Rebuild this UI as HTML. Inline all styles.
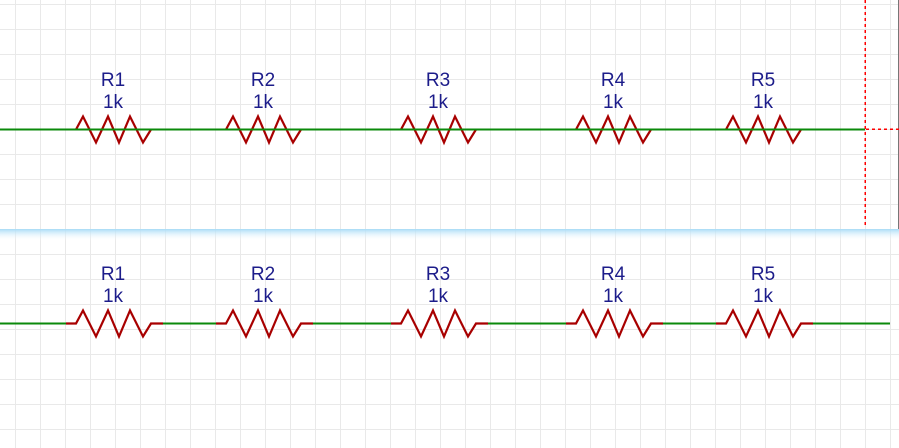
<!DOCTYPE html>
<html><head><meta charset="utf-8"><style>
html,body{margin:0;padding:0;background:#fff;}
svg{display:block;font-family:"Liberation Sans",sans-serif;}
</style></head><body>
<svg id="s" width="899" height="448" viewBox="0 0 899 448">
<defs>
<pattern id="grid" x="15" y="4" width="25" height="25" patternUnits="userSpaceOnUse">
<path d="M0.5 0V25M0 0.5H25" fill="none" stroke="#e9e9e9" stroke-width="1"/>
</pattern>
<linearGradient id="glow" x1="0" y1="0" x2="0" y2="1">
<stop offset="0" stop-color="#a9dcf7"/><stop offset="1" stop-color="#ffffff" stop-opacity="0"/>
</linearGradient>
</defs>
<rect width="899" height="448" fill="url(#grid)"/>
<rect x="0" y="229" width="899" height="12" fill="url(#glow)"/>
<line x1="898.5" y1="0" x2="898.5" y2="229" stroke="#777" stroke-width="1"/>
<line x1="865" y1="0" x2="865" y2="228" stroke="#ff0000" stroke-width="1.5" shape-rendering="crispEdges" stroke-dasharray="3,3"/>
<line x1="866" y1="129" x2="899" y2="129" stroke="#ff0000" stroke-width="1.5" shape-rendering="crispEdges" stroke-dasharray="3,3"/>
<g id="topg"></g>
<g id="botg"></g>
</svg>
<script>
const names = ["R1","R2","R3","R4","R5"];
const values = ["1k","1k","1k","1k","1k"];
const centers = [113,263,438,613,763];
const NS="http://www.w3.org/2000/svg";
function mk(tag,attrs,parent){const e=document.createElementNS(NS,tag);for(const k in attrs)e.setAttribute(k,attrs[k]);parent.appendChild(e);return e;}
function zig(cx,wy){const xs=[-37,-30,-17,-5,6,17,30,38];const ys=[0,-13,13,-13,13,-13,13,0];return xs.map((x,i)=>(cx+x)+","+(wy+ys[i])).join(" ");}
function label(g,i,y){
  const t1=mk("text",{x:centers[i],y:y,"text-anchor":"middle","font-size":"19",fill:"#1c1c8a"},g);
  
  
  t1.textContent=names[i];
  const t2=mk("text",{x:centers[i],y:y+22,"text-anchor":"middle","font-size":"19",fill:"#1c1c8a"},g);
  
  
  t2.textContent=values[i];
}
const gTop=document.getElementById("topg");
names.forEach((n,i)=>{
  const p=mk("polyline",{points:zig(centers[i],129.5),fill:"none",stroke:"#a80000","stroke-width":"2.2"},gTop);
  
  
  label(gTop,i,86);
});
const w1=mk("line",{x1:0,y1:129.5,x2:865,y2:129.5,stroke:"#0b8a0b","stroke-width":"2"},gTop);


const gBot=document.getElementById("botg");
const wy=323.5;
let prevX=0;
names.forEach((n,i)=>{
  const c=centers[i];
  const w=mk("line",{x1:prevX,y1:wy,x2:c-47,y2:wy,stroke:"#0b8a0b","stroke-width":"2"},gBot);
  
  
  const p=mk("polyline",{points:(c-47)+","+wy+" "+zig(c,wy)+" "+(c+50)+","+wy,fill:"none",stroke:"#a80000","stroke-width":"2.2"},gBot);
  
  
  prevX=c+50;
  label(gBot,i,280);
});
const wl=mk("line",{x1:prevX,y1:wy,x2:890,y2:wy,stroke:"#0b8a0b","stroke-width":"2"},gBot);


</script>
</body></html>
